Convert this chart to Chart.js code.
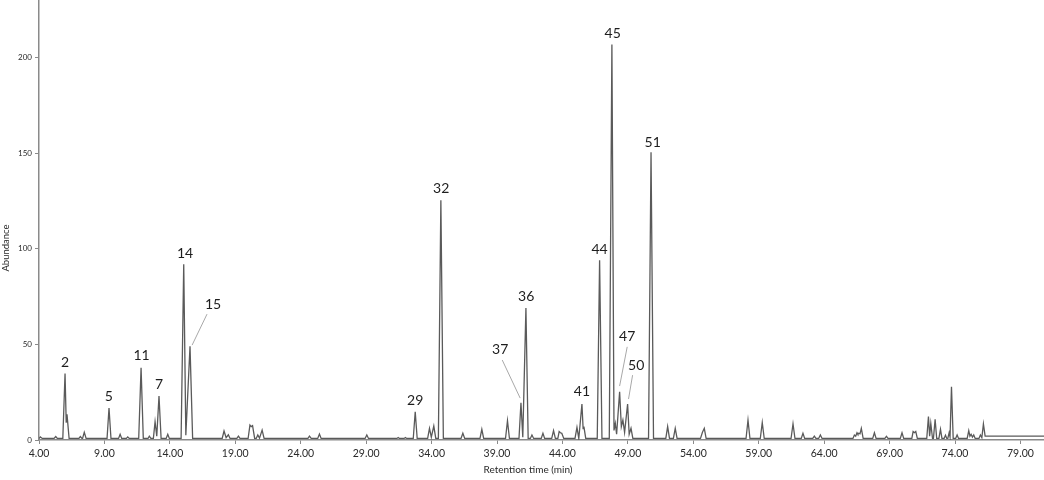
<!DOCTYPE html>
<html>
<head>
<meta charset="utf-8">
<script src="https://cdn.jsdelivr.net/npm/chart.js@4.4.1/dist/chart.umd.min.js"></script>
<style>
  html, body { margin: 0; padding: 0; background: #ffffff; }
  #wrap { width: 1044px; height: 480px; }
</style>
</head>
<body>
<div id="wrap"><canvas id="c" width="1044" height="480"></canvas></div>
<script>
// Retention time (min) / abundance pairs
const trace = [
  [4.0,0.8],[4.1,1.6],[4.25,0.8],
  [5.15,0.8],[5.28,1.8],[5.4,0.8],
  [5.82,0.8],[5.99,34.8],[6.08,9],[6.14,13.4],[6.3,0.8],
  [7.05,0.8],[7.16,1.8],[7.28,0.8],
  [7.33,0.8],[7.46,4.0],[7.6,0.8],
  [9.2,0.8],[9.35,16.7],[9.5,0.8],
  [10.08,0.8],[10.2,3.0],[10.32,0.8],
  [10.68,0.8],[10.78,1.6],[10.9,0.8],
  [11.62,0.8],[11.8,37.8],[11.97,0.8],
  [12.33,0.8],[12.43,2.0],[12.55,0.8],
  [12.74,0.8],[12.87,9.6],[13.0,2],[13.17,23.0],[13.33,0.8],
  [13.72,0.8],[13.84,3.0],[13.96,0.8],
  [14.86,0.8],[15.06,91.9],[15.22,2.5],[15.54,49],[15.74,0.8],
  [18.0,0.8],[18.14,4.7],[18.3,1.2],[18.47,2.7],[18.6,0.8],
  [19.12,0.8],[19.24,2.0],[19.36,0.8],
  [19.98,0.8],[20.12,7.8],[20.22,7.0],[20.32,7.5],[20.48,0.8],
  [20.6,0.8],[20.72,2.6],[20.85,1],[21.05,5.2],[21.2,0.8],
  [24.55,0.8],[24.67,2.0],[24.8,0.8],
  [25.3,0.8],[25.43,3.1],[25.56,0.8],
  [28.92,0.8],[29.05,2.6],[29.18,0.8],
  [31.35,0.8],[31.45,1.3],[31.55,0.8],
  [31.9,0.8],[32.0,1.3],[32.1,0.8],
  [32.6,0.8],[32.75,14.8],[32.9,0.8],
  [33.7,0.8],[33.84,6.1],[33.98,1.5],[34.17,7.3],[34.32,0.8],
  [34.52,0.8],[34.71,125.3],[34.9,0.8],
  [36.25,0.8],[36.39,3.5],[36.53,0.8],
  [37.7,0.8],[37.84,5.6],[37.98,0.8],
  [39.65,0.8],[39.8,10.1],[39.95,0.8],
  [40.68,0.8],[40.83,19.5],[40.97,1.5],[41.21,69],[41.38,0.8],
  [41.55,0.8],[41.67,2.6],[41.8,0.8],
  [42.38,0.8],[42.51,3.5],[42.64,0.8],
  [43.18,0.8],[43.32,4.9],[43.46,0.8],
  [43.65,0.8],[43.75,4.4],[43.85,3.8],[43.95,3.5],[44.1,0.8],
  [44.96,0.8],[45.11,6.6],[45.25,0.8],[45.49,18.8],[45.58,6],[45.64,7.0],[45.78,0.8],
  [46.66,0.8],[46.84,94],[47.02,0.8],
  [47.58,0.8],[47.78,206.8],[47.94,5],[48.04,8.7],[48.14,3],[48.37,25.2],[48.5,7],[48.62,10.4],[48.75,4],[48.98,18.8],[49.1,3],[49.24,6.1],[49.38,0.8],
  [50.58,0.8],[50.77,150.4],[50.96,0.8],
  [51.9,0.8],[52.04,7.0],[52.18,0.8],
  [52.48,0.8],[52.62,6.1],[52.76,0.8],
  [54.55,0.8],[54.7,4.0],[54.84,6.1],[54.98,0.8],
  [58.03,0.8],[58.18,10.4],[58.33,0.8],
  [59.12,0.8],[59.27,9.1],[59.42,0.8],
  [61.47,0.8],[61.62,8.4],[61.77,0.8],
  [62.25,0.8],[62.38,3.5],[62.51,0.8],
  [63.13,0.8],[63.25,2.0],[63.37,0.8],
  [63.58,0.8],[63.71,2.6],[63.84,0.8],
  [66.2,0.8],[66.31,2.6],[66.41,2.0],[66.51,3.8],[66.58,3.0],[66.66,3.5],[66.74,3.2],[66.84,6.1],[66.98,0.8],
  [67.71,0.8],[67.84,3.8],[67.97,0.8],
  [68.64,0.8],[68.76,1.9],[68.88,0.8],
  [69.82,0.8],[69.95,3.8],[70.08,0.8],
  [70.7,0.8],[70.8,4.4],[70.9,3.8],[71.0,4.4],[71.12,0.8],
  [71.84,0.8],[71.97,12.2],[72.06,2],[72.15,8.7],[72.28,0.8],[72.35,0.8],[72.48,10.8],[72.6,0.8],
  [72.77,0.8],[72.89,5.6],[73.0,0.8],
  [73.17,0.8],[73.27,2.5],[73.37,0.8],
  [73.45,0.8],[73.55,3.8],[73.62,1.5],[73.73,27.8],[73.86,0.8],
  [74.05,0.8],[74.16,2.6],[74.27,0.8],
  [74.93,0.8],[75.05,4.9],[75.14,2],[75.23,3.0],[75.33,1.5],[75.43,2.6],[75.54,0.8],
  [75.83,0.8],[75.94,2.6],[76.05,1.2],[76.17,8.4],[76.3,2.0],
  [77.0,2.0],[78.5,2.0],[80.8,2.0]
];

const xTickValues = [4, 9, 14, 19, 24, 29, 34, 39, 44, 49, 54, 59, 64, 69, 74, 79];
const xTickLabels = ['4.00','9.00','14.00','19.00','24.00','29.00','34.00','39.00','44.00','49.00','54.00','59.00','64.00','69.00','74.00','79.00'];
const yTickValues = [0, 50, 100, 150, 200];

// Peak numbers and where their text sits (in data units)
const peakLabels   = ['2','5','11','7','14','15','29','32','36','37','41','44','45','47','50','51'];
const peakLabelRT  = [5.99, 9.33, 11.84, 13.17, 15.16, 17.3, 32.75, 34.73, 41.23, 39.24, 45.49, 46.84, 47.84, 48.95, 49.64, 50.9];
const peakLabelAb  = [40.6, 22.6, 44.4, 29.2, 97.7, 71.0, 20.4, 131.6, 75.2, 47.5, 25.1, 99.5, 212.5, 54.3, 39.2, 155.6];

// Leader lines (from label end to peak), in data units
const leaderRT1 = [16.84, 39.40, 48.95, 49.36];
const leaderAb1 = [65.8, 41.8, 48.7, 33.9];
const leaderRT2 = [15.70, 40.77, 48.37, 49.05];
const leaderAb2 = [49.6, 21.9, 28.2, 21.4];

const FONT = 'Lato, "Open Sans", "Liberation Sans", sans-serif';

const annotations = {
  id: 'annotations',
  afterDatasetsDraw(chart) {
    const {ctx, scales: {x, y}} = chart;
    ctx.save();
    ctx.strokeStyle = '#a8a8a8';
    ctx.lineWidth = 1;
    for (let i = 0; i < leaderRT1.length; i++) {
      ctx.beginPath();
      ctx.moveTo(x.getPixelForValue(leaderRT1[i]), y.getPixelForValue(leaderAb1[i]));
      ctx.lineTo(x.getPixelForValue(leaderRT2[i]), y.getPixelForValue(leaderAb2[i]));
      ctx.stroke();
    }
    ctx.fillStyle = '#1e1e1e';
    ctx.font = '14px ' + FONT;
    ctx.textAlign = 'center';
    ctx.textBaseline = 'middle';
    for (let i = 0; i < peakLabels.length; i++) {
      ctx.fillText(peakLabels[i], x.getPixelForValue(peakLabelRT[i]), y.getPixelForValue(peakLabelAb[i]));
    }
    ctx.fillStyle = '#2a2a2a';
    ctx.font = '10px ' + FONT;
    ctx.fillText('Retention time (min)', 528, 470);
    ctx.translate(6, 248);
    ctx.rotate(-Math.PI / 2);
    ctx.font = '9.5px ' + FONT;
    ctx.fillText('Abundance', 0, 0);
    ctx.restore();
  }
};

new Chart(document.getElementById('c'), {
  type: 'line',
  data: {
    datasets: [{
      data: trace.map(p => ({x: p[0], y: p[1]})),
      borderColor: '#5a5a5a',
      borderWidth: 1.3,
      pointRadius: 0,
      tension: 0,
      fill: false
    }]
  },
  options: {
    responsive: false,
    animation: false,
    layout: {padding: {top: 0, right: 0, bottom: 0, left: 0}},
    plugins: {legend: {display: false}, tooltip: {enabled: false}},
    scales: {
      x: {
        type: 'linear',
        min: 4,
        max: 80.8,
        afterBuildTicks: s => { s.ticks = xTickValues.map(v => ({value: v})); },
        afterFit: s => { s.height = 40; s.paddingLeft = 0; s.paddingRight = 0; },
        ticks: {
          autoSkip: false,
          maxRotation: 0,
          padding: 3,
          color: '#2a2a2a',
          font: {size: 10.5, family: FONT},
          callback: (v, i) => xTickLabels[i]
        },
        grid: {drawOnChartArea: false, tickLength: 4, color: '#8a8a8a', lineWidth: 1},
        border: {color: '#8a8a8a', width: 1.5}
      },
      y: {
        min: 0,
        max: 230,
        afterBuildTicks: s => { s.ticks = yTickValues.map(v => ({value: v})); },
        afterFit: s => { s.width = 39; s.paddingTop = 0; s.paddingBottom = 0; },
        ticks: {
          padding: 3,
          color: '#2a2a2a',
          font: {size: 8, family: FONT},
          callback: v => String(v)
        },
        grid: {drawOnChartArea: false, tickLength: 4, color: '#8a8a8a', lineWidth: 1},
        border: {color: '#8a8a8a', width: 1.5}
      }
    }
  },
  plugins: [annotations]
});
</script>
</body>
</html>
